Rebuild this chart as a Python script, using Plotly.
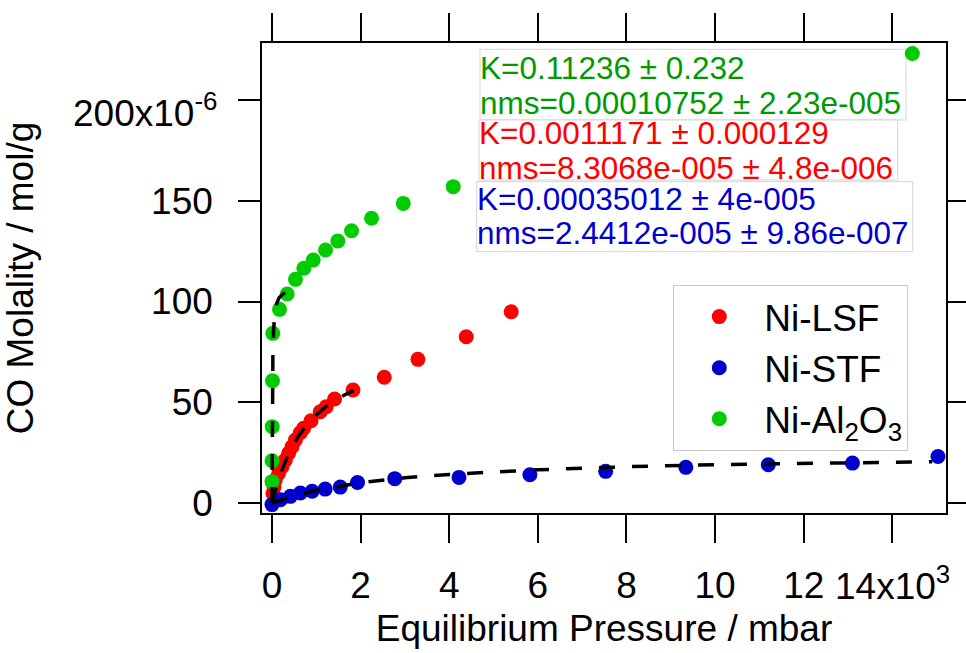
import plotly.graph_objects as go

# ---- data (pressure in mbar, molality in units of 1e-6 mol/g) ----
lsf_p = [20, 45, 74, 149, 226, 300, 374, 451, 526, 638, 713, 880, 1088, 1223, 1412, 1827, 2533, 3293, 4383, 5398]
lsf_n = [4.8, 8.1, 11.4, 14.7, 18.0, 21.3, 24.7, 27.9, 31.3, 34.9, 37.1, 40.8, 45.3, 47.8, 51.6, 56.1, 62.4, 71.3, 82.5, 94.9]

stf_p = [0, 190, 415, 640, 905, 1200, 1540, 1930, 2770, 4220, 5820, 7530, 9340, 11200, 13100, 15030]
stf_n = [-0.8, 1.6, 3.3, 5.0, 5.8, 6.9, 7.9, 10.2, 12.1, 12.7, 14.0, 15.7, 17.7, 19.0, 19.8, 23.1]

al_p = [1, 2, 5, 11, 18, 169, 343, 530, 718, 930, 1208, 1485, 1795, 2246, 2962, 4090, 14451]
al_n = [10.6, 21.0, 37.9, 60.7, 84.2, 96.1, 103.7, 111.0, 116.5, 120.6, 125.6, 130.0, 135.1, 141.3, 148.7, 157.0, 223.1]

# Langmuir fit curves
fit_lsf_p = [0, 50, 100, 200, 300, 400, 600, 800, 1000, 1200, 1500, 1840]
fit_lsf_n = [0, 4.4, 8.3, 15.2, 20.9, 25.7, 33.3, 39.2, 43.8, 47.6, 52.0, 55.9]
fit_stf_p = [0, 200, 500, 1000, 2000, 3000, 4000, 6000, 8000, 10000, 12000, 14000, 14900]
fit_stf_n = [0, 1.6, 3.6, 6.3, 10.1, 12.5, 14.2, 16.5, 18.0, 19.0, 19.7, 20.3, 20.5]
fit_al_p = [0, 1, 2, 4, 7, 12, 20, 35, 60, 100, 160, 250, 350]
fit_al_n = [0, 10.9, 19.7, 33.3, 47.3, 61.7, 74.4, 85.7, 93.6, 98.7, 101.9, 103.8, 104.9]

x_tickvals = [0, 2000, 4000, 6000, 8000, 10000, 12000, 14000]
x_ticktext = ["0", "2", "4", "6", "8", "10", "12", ""]
y_tickvals = [0, 50, 100, 150, 200]
y_ticktext = ["0", "50", "100", "150", ""]

fit_lines = [
    ("Al2O3 fit", fit_al_p, fit_al_n),
    ("LSF fit", fit_lsf_p, fit_lsf_n),
    ("STF fit", fit_stf_p, fit_stf_n),
]

FONT = "Liberation Sans, Arial, sans-serif"
RED, BLUE, GREEN = "#FF0000", "#0000CC", "#00CC00"

fig = go.Figure()
fig.add_trace(go.Scatter(x=lsf_p, y=lsf_n, mode="markers", name="Ni-LSF",
                         marker=dict(color=RED, size=15, line=dict(width=0))))
fig.add_trace(go.Scatter(x=stf_p, y=stf_n, mode="markers", name="Ni-STF",
                         marker=dict(color=BLUE, size=15, line=dict(width=0))))
fig.add_trace(go.Scatter(x=al_p, y=al_n, mode="markers", name="Ni-Al<sub>2</sub>O<sub>3</sub>",
                         marker=dict(color=GREEN, size=15, line=dict(width=0))))
for nm, px, ny in fit_lines:
    fig.add_trace(go.Scatter(x=px, y=ny, mode="lines", name=nm, showlegend=False,
                             line=dict(color="black", width=3.5, dash="16px,17px")))

axis_common = dict(showline=True, linecolor="black", linewidth=1.5, mirror="ticks",
                   ticks="outside", tickcolor="black", tickwidth=1.5,
                   showgrid=False, zeroline=False,
                   tickfont=dict(family=FONT, size=37, color="black"))

fig.update_xaxes(range=[-226, 15211], tickvals=x_tickvals, ticktext=x_ticktext,
                 ticklen=28, ticklabelstandoff=11,
                 title=dict(text="Equilibrium Pressure / mbar",
                            font=dict(family=FONT, size=37, color="black"), standoff=10),
                 **axis_common)
fig.update_yaxes(range=[-4.96, 228.3], tickvals=y_tickvals, ticktext=y_ticktext,
                 ticklen=22, ticklabelstandoff=18,
                 title=dict(text="CO Molality / mol/g",
                            font=dict(family=FONT, size=37, color="black"), standoff=110),
                 **axis_common)

# fit result boxes
boxes = [
    (0.3187, 0.9415, 0.8362, 0.9866),
    (0.3173, 0.9294, 0.7085, 0.8362),
    (0.3139, 0.9513, 0.5560, 0.7049),
]
shapes = [dict(type="rect", xref="paper", yref="paper", x0=a, x1=b, y0=c, y1=d,
               line=dict(color="#d4d4d4", width=1), fillcolor="white", layer="below")
          for a, b, c, d in boxes]

fit_texts = [
    ("K=0.11236 ± 0.232", "#009A00", 0.3172, 0.9462),
    ("nms=0.00010752 ± 2.23e-005", "#009A00", 0.3172, 0.8717),
    ("K=0.0011171 ± 0.000129", RED, 0.3157, 0.8079),
    ("nms=8.3068e-005 ± 4.8e-006", RED, 0.3157, 0.7334),
    ("K=0.00035012 ± 4e-005", BLUE, 0.3122, 0.6674),
    ("nms=2.4412e-005 ± 9.86e-007", BLUE, 0.3122, 0.5951),
]
annotations = [dict(text=t, x=x, y=y, xref="paper", yref="paper", xanchor="left",
                    yanchor="middle", showarrow=False, borderpad=0,
                    font=dict(family=FONT, size=31.5, color=c))
               for t, c, x, y in fit_texts]

# exponent tick labels (Igor style)
annotations.append(dict(text="200x10<sup>-6</sup>", x=-0.0634, y=200, xref="paper", yref="y",
                        xanchor="right", yanchor="middle", yshift=-10, showarrow=False,
                        font=dict(family=FONT, size=37, color="black")))
annotations.append(dict(text="14x10<sup>3</sup>", x=14000, y=-0.15, xref="x", yref="paper",
                        xanchor="center", yanchor="middle", showarrow=False,
                        font=dict(family=FONT, size=37, color="black")))

fig.update_layout(
    width=966, height=653,
    margin=dict(l=262, r=20, t=43, b=140, autoexpand=False),
    paper_bgcolor="white", plot_bgcolor="white",
    shapes=shapes, annotations=annotations,
    legend=dict(x=0.6013, y=0.4850, xanchor="left", yanchor="top",
                bgcolor="white", bordercolor="#c8c8c8", borderwidth=1,
                font=dict(family=FONT, size=37, color="black"),
                itemwidth=80, tracegroupgap=0),
    showlegend=True,
)

fig.write_html("out.html")
